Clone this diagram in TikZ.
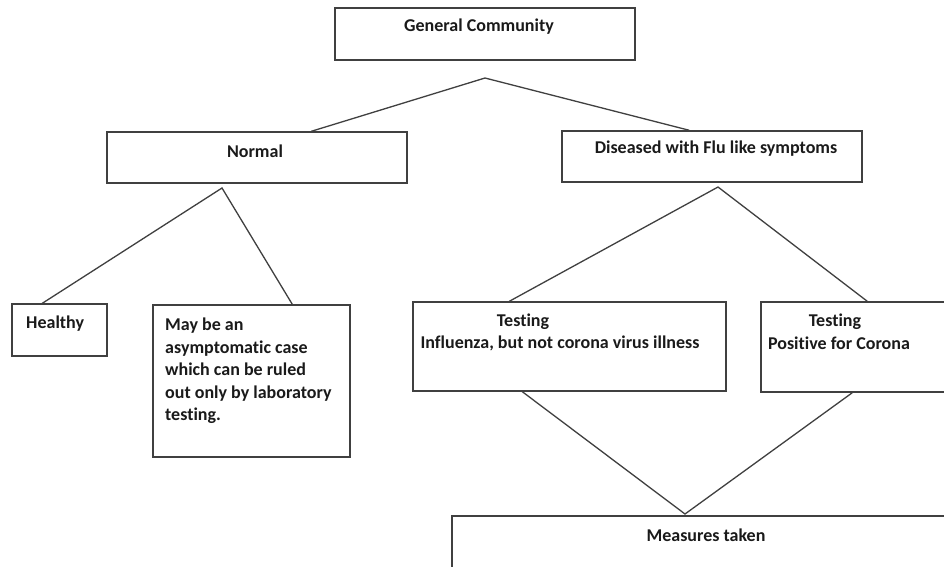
\documentclass[tikz,border=0pt]{standalone}
\usepackage{fontspec}
\setmainfont[Ligatures=NoCommon]{Carlito}
\usetikzlibrary{calc}
\definecolor{edge}{HTML}{404040}
\definecolor{ink}{HTML}{1A1A1A}
\tikzset{
  boxnode/.style={draw=edge, line width=1.4pt, rectangle, inner sep=0pt, fill=none},
  conn/.style={draw=edge, line width=1.3pt},
  txt/.style={inner sep=0pt, text=ink, font=\fontsize{18}{22}\selectfont\bfseries},
}
\begin{document}
\begin{tikzpicture}[x=1pt,y=-1pt]
\useasboundingbox (0,0) rectangle (944,566);
\clip (0,0) rectangle (944,566);
\fill[white] (0,0) rectangle (944,566);
% boxes
\node[boxnode, minimum width=300pt, minimum height=52pt] (gc) at (485,34) {};
\node[boxnode, minimum width=300pt, minimum height=51pt] (normal) at (257,157.5) {};
\node[boxnode, minimum width=300pt, minimum height=51pt] (dis) at (712,156.5) {};
\node[boxnode, minimum width=95pt, minimum height=52pt] (healthy) at (59.5,330) {};
\node[boxnode, minimum width=197pt, minimum height=152pt] (maybe) at (251.5,381) {};
\node[boxnode, minimum width=313pt, minimum height=89pt] (t1) at (569.5,346.5) {};
\node[boxnode, minimum width=199pt, minimum height=90pt] (t2) at (860.5,347) {};
\node[boxnode, minimum width=528pt, minimum height=84pt] (meas) at (716,558) {};
% texts
\node[txt] (gct) at (479,27) {General Community};
\node[txt] (normalt) at (255,151) {Normal};
\node[txt] (dist) at (716,149) {Diseased with Flu like symptoms};
\node[txt, anchor=west] (healthyt) at (26,324) {Healthy};
\node[txt, anchor=north west, align=left, font=\fontsize{18}{22.5}\selectfont\bfseries] (maybet) at (165,318)
  {May be an\\asymptomatic case\\which can be ruled\\out only by laboratory\\testing.};
\node[txt] (t1a) at (523,322) {Testing};
\node[txt] (t1b) at (560,343) {Influenza, but not corona virus illness};
\node[txt] (t2a) at (835,322) {Testing};
\node[txt] (t2b) at (839,343) {Positive for Corona};
\node[txt] (meast) at (706,535) {Measures taken};
% apex points
\coordinate (gcap) at (485,78);
\coordinate (nap) at (222,188);
\coordinate (dap) at (718,187);
\coordinate (map) at (685,514);
% connectors
\draw[conn] ($(normal.north west)+(205,0)$) -- (gcap) -- ($(dis.north west)+(128,0)$);
\draw[conn] ($(healthy.north west)+(31,0)$) -- (nap) -- ($(maybe.north west)+(140,0)$);
\draw[conn] ($(t1.north west)+(97,0)$) -- (dap) -- ($(t2.north west)+(107,0)$);
\draw[conn] ($(t1.south west)+(110,0)$) -- (map) -- ($(t2.south west)+(92,0)$);
\end{tikzpicture}
\end{document}
